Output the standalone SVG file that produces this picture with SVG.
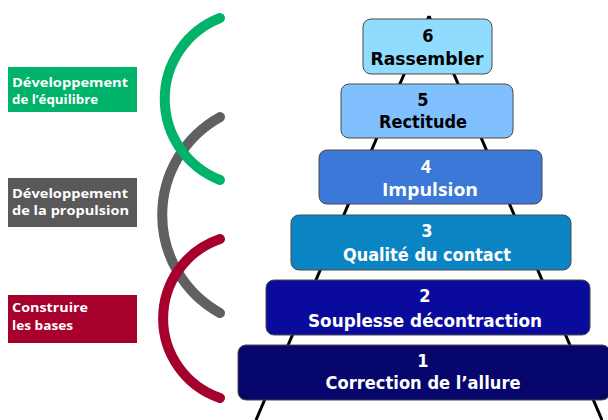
<svg xmlns="http://www.w3.org/2000/svg" width="608" height="420" viewBox="0 0 608 420">
<style>
.arc{fill:none;stroke-width:10;stroke-linecap:round}
.lbl{stroke:none}
.lt{font-family:"Open Sans","DejaVu Sans",sans-serif;font-weight:bold;font-size:13px;fill:#fff}
.box{stroke:#4a4a4a;stroke-width:1}
.bt{font-family:"DejaVu Sans Condensed","DejaVu Sans",sans-serif;font-weight:bold;font-size:18px;text-anchor:middle}
.dark{fill:#000}
.light{fill:#fff}
.conn{stroke:#000;stroke-width:3;fill:none}
</style>
<rect width="608" height="420" fill="#fff"/>
<g id="connectors">
<line class="conn" x1="429" y1="16" x2="256" y2="420"/>
<line class="conn" x1="429" y1="16" x2="602" y2="420"/>
</g>
<g id="arcs">
<path class="arc" stroke="#606060" d="M220,117 A112,112 0 0 0 220,313"/>
<path class="arc" stroke="#00b36b" d="M220,18 A87,87 0 0 0 220,180"/>
<path class="arc" stroke="#a6002c" d="M220,239 A84,84 0 0 0 220,398"/>
</g>
<g id="label-equilibre">
<rect class="lbl" x="8" y="67" width="129" height="45" fill="#00b36b"/>
<text class="lt" x="12" y="87" textLength="116" lengthAdjust="spacingAndGlyphs">Développement</text>
<text class="lt" x="12" y="104" textLength="86" lengthAdjust="spacingAndGlyphs">de l’équilibre</text>
</g>
<g id="label-propulsion">
<rect class="lbl" x="8" y="178" width="129" height="49" fill="#595959"/>
<text class="lt" x="12" y="198" textLength="116" lengthAdjust="spacingAndGlyphs">Développement</text>
<text class="lt" x="12" y="215" textLength="117" lengthAdjust="spacingAndGlyphs">de la propulsion</text>
</g>
<g id="label-bases">
<rect class="lbl" x="8" y="295" width="129" height="48" fill="#a6002c"/>
<text class="lt" x="12" y="312" textLength="76" lengthAdjust="spacingAndGlyphs">Construire</text>
<text class="lt" x="12" y="330" textLength="61" lengthAdjust="spacingAndGlyphs">les bases</text>
</g>
<g id="step6">
<rect class="box" x="363" y="19" width="129" height="55" rx="8" fill="#8fdcff"/>
<text class="bt dark" x="428" y="42">6</text>
<text class="bt dark" x="427" y="65" textLength="113" lengthAdjust="spacingAndGlyphs">Rassembler</text>
</g>
<g id="step5">
<rect class="box" x="341" y="84" width="172" height="54" rx="8" fill="#80c0ff"/>
<text class="bt dark" x="423" y="106">5</text>
<text class="bt dark" x="423" y="128" textLength="88" lengthAdjust="spacingAndGlyphs">Rectitude</text>
</g>
<g id="step4">
<rect class="box" x="319" y="150" width="223" height="54" rx="8" fill="#3b78d8"/>
<text class="bt light" x="426" y="173" style="font-family:'Open Sans','DejaVu Sans',sans-serif">4</text>
<text class="bt light" x="430" y="196" textLength="96" lengthAdjust="spacingAndGlyphs" style="font-family:'Open Sans','DejaVu Sans',sans-serif">Impulsion</text>
</g>
<g id="step3">
<rect class="box" x="291" y="215" width="280" height="55" rx="8" fill="#0b84c4"/>
<text class="bt light" x="427" y="237">3</text>
<text class="bt light" x="427" y="261" textLength="168" lengthAdjust="spacingAndGlyphs">Qualité du contact</text>
</g>
<g id="step2">
<rect class="box" x="266" y="280" width="324" height="55" rx="8" fill="#0a0a9c"/>
<text class="bt light" x="425" y="302">2</text>
<text class="bt light" x="425" y="327" textLength="234" lengthAdjust="spacingAndGlyphs">Souplesse décontraction</text>
</g>
<g id="step1">
<rect class="box" x="238" y="345" width="372" height="55" rx="8" fill="#06066c"/>
<text class="bt light" x="423" y="367">1</text>
<text class="bt light" x="423" y="389" textLength="195" lengthAdjust="spacingAndGlyphs">Correction de l’allure</text>
</g>
</svg>
